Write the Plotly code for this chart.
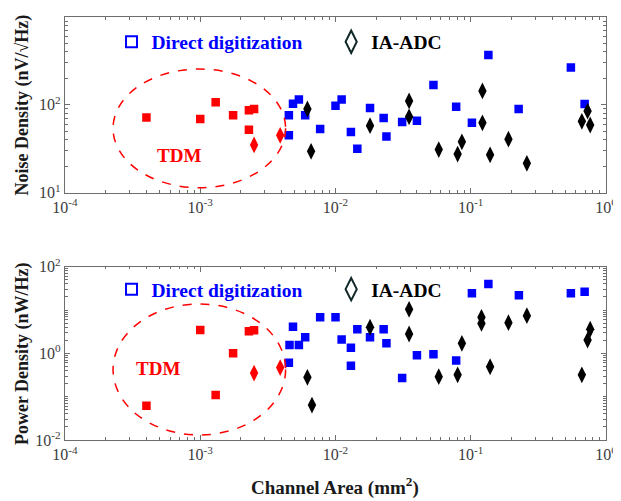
import plotly.graph_objects as go

# ---------------- data ----------------
# Top panel: noise density (nV/sqrt(Hz)) vs channel area (mm^2)
noise_tdm_sq_x = [4.0e-4, 1.0e-3, 1.3e-3, 1.75e-3, 2.29e-3, 2.5e-3, 2.29e-3]
noise_tdm_sq_y = [72, 69, 107, 76, 87, 89.5, 52]
noise_tdm_di_x = [2.5e-3, 3.9e-3]
noise_tdm_di_y = [35, 45]
noise_dd_x = [4.85e-3, 5.36e-3, 4.52e-3, 5.97e-3, 1.0e-2, 1.11e-2, 1.8e-2, 2.27e-2,
              3.11e-2, 4.0e-2, 5.3e-2, 7.8e-2, 0.102, 0.135, 0.226, 0.55, 0.695,
              4.52e-3, 7.7e-3, 1.3e-2, 1.45e-2, 2.38e-2]
noise_dd_y = [103, 115, 76, 76, 98, 115, 92, 71,
              64, 66, 168, 95, 62.5, 369, 89.5, 267, 102,
              45, 53, 49, 31.6, 43.7]
noise_ia_x = [6.2e-3, 6.6e-3, 1.8e-2, 3.5e-2, 3.5e-2, 5.8e-2, 8.0e-2, 8.6e-2,
              0.122, 0.122, 0.139, 0.19, 0.26, 0.663, 0.731, 0.764]
noise_ia_y = [90, 29.6, 58, 111, 73, 31, 27.5, 38,
              62.5, 144, 27, 40.7, 21.6, 65, 85, 59]

# Bottom panel: power density (nW/Hz) vs channel area (mm^2)
power_tdm_sq_x = [1.0e-3, 2.29e-3, 2.5e-3, 1.75e-3, 1.3e-3, 4.0e-4]
power_tdm_sq_y = [3.46, 3.23, 3.4, 1.0, 0.109, 0.062]
power_tdm_di_x = [2.5e-3, 3.9e-3]
power_tdm_di_y = [0.35, 0.47]
power_dd_x = [4.85e-3, 4.57e-3, 5.36e-3, 5.97e-3, 4.52e-3, 7.7e-3, 1.0e-2, 1.11e-2,
              1.3e-2, 1.45e-2, 1.8e-2, 2.27e-2, 2.38e-2, 1.3e-2, 3.11e-2, 4.0e-2,
              5.3e-2, 7.8e-2, 0.102, 0.135, 0.227, 0.55, 0.695]
power_dd_y = [4.1, 1.56, 1.56, 2.35, 0.61, 6.8, 6.8, 2.1,
              1.35, 3.6, 2.35, 3.6, 1.7, 0.52, 0.27, 0.90,
              0.95, 0.68, 24.3, 40, 21.9, 24.3, 26.5]
power_ia_x = [6.2e-3, 6.7e-3, 1.8e-2, 3.5e-2, 3.5e-2, 5.8e-2, 8.0e-2, 8.6e-2,
              0.12, 0.12, 0.139, 0.19, 0.26, 0.663, 0.731, 0.764]
power_ia_y = [0.28, 0.064, 4.0, 10.4, 2.8, 0.29, 0.32, 1.7,
              6.8, 4.9, 0.49, 5.1, 7.4, 0.32, 2.03, 3.6]

x_tickvals = [1e-4, 1e-3, 1e-2, 1e-1, 1]
x_ticktext = ["10<sup>-4</sup>", "10<sup>-3</sup>", "10<sup>-2</sup>", "10<sup>-1</sup>", "10<sup>0</sup>"]
y1_tickvals = [10, 100, 1000]
y1_ticktext = ["10<sup>1</sup>", "10<sup>2</sup>", "10<sup>3</sup>"]
y2_tickvals = [1e-2, 1, 100]
y2_ticktext = ["10<sup>-2</sup>", "10<sup>0</sup>", "10<sup>2</sup>"]

# ---------------- styling ----------------
RED = "#ff0000"
BLUE = "#0000ff"
BLACK = "#000000"
FRAME = "#6e6e6e"
SERIF = "Liberation Serif"


def minor_vals(lo, hi):
    vals = []
    for e in range(lo, hi):
        for k in range(2, 10):
            vals.append(k * 10.0 ** e)
    return vals


fig = go.Figure()


def add_points(xs, ys, color, symbol, size, xa, ya):
    fig.add_trace(go.Scatter(
        x=xs, y=ys, mode="markers", xaxis=xa, yaxis=ya, showlegend=False,
        marker=dict(color=color, symbol=symbol, size=size, line=dict(width=0)),
        hoverinfo="x+y"))


SQ = 8.5
DI = 12
add_points(noise_dd_x, noise_dd_y, BLUE, "square", SQ, "x", "y")
add_points(noise_ia_x, noise_ia_y, BLACK, "diamond-tall", DI, "x", "y")
add_points(noise_tdm_sq_x, noise_tdm_sq_y, RED, "square", SQ, "x", "y")
add_points(noise_tdm_di_x, noise_tdm_di_y, RED, "diamond-tall", DI, "x", "y")

add_points(power_dd_x, power_dd_y, BLUE, "square", SQ, "x2", "y2")
add_points(power_ia_x, power_ia_y, BLACK, "diamond-tall", DI, "x2", "y2")
add_points(power_tdm_sq_x, power_tdm_sq_y, RED, "square", SQ, "x2", "y2")
add_points(power_tdm_di_x, power_tdm_di_y, RED, "diamond-tall", DI, "x2", "y2")


# legend entries (open symbols)
def legend_entry(name, color, symbol, size, legend, xa, ya):
    fig.add_trace(go.Scatter(
        x=[None], y=[None], mode="markers", name=name, legend=legend,
        xaxis=xa, yaxis=ya,
        marker=dict(color=color, symbol=symbol, size=size,
                    line=dict(color=color, width=2))))


IA_COL = "#102828"
legend_entry("<b>Direct digitization</b>", BLUE, "square-open", 11, "legend", "x", "y")
legend_entry("<b>IA-ADC</b>", IA_COL, "diamond-tall-open", 16, "legend2", "x", "y")
legend_entry("<b>Direct digitization</b>", BLUE, "square-open", 11, "legend3", "x2", "y2")
legend_entry("<b>IA-ADC</b>", IA_COL, "diamond-tall-open", 16, "legend4", "x2", "y2")


def leg(x, y, color):
    return dict(x=x, y=y, xanchor="left", yanchor="middle", orientation="h",
                bgcolor="rgba(0,0,0,0)", borderwidth=0,
                font=dict(family=SERIF, size=19.5, color=color))


axis_common = dict(
    type="log", showgrid=False, zeroline=False, showline=True, linecolor=FRAME,
    linewidth=1.3, mirror="allticks", ticks="inside", ticklen=5, tickwidth=1,
    tickcolor=FRAME, tickmode="array",
    tickfont=dict(family=SERIF, size=16, color="#3c3c3c"),
)

# page body has an 8px default margin, so the figure is shrunk by 8px
fig.update_layout(
    width=613, height=493,
    margin=dict(l=57.3, r=15.3, t=9, b=61, autoexpand=False),
    paper_bgcolor="white", plot_bgcolor="white",
    xaxis=dict(axis_common, domain=[0, 1], anchor="y", range=[-4, 0],
               tickvals=x_tickvals, ticktext=x_ticktext,
               minor=dict(tickmode="array", tickvals=minor_vals(-4, 0), ticks="inside",
                          ticklen=2.5, tickcolor=FRAME, showgrid=False)),
    yaxis=dict(axis_common, domain=[0.5846, 1], anchor="x", range=[1, 3],
               tickvals=y1_tickvals, ticktext=y1_ticktext,
               minor=dict(tickmode="array", tickvals=minor_vals(1, 3), ticks="inside",
                          ticklen=2.5, tickcolor=FRAME, showgrid=False)),
    xaxis2=dict(axis_common, domain=[0, 1], anchor="y2", range=[-4, 0],
                tickvals=x_tickvals, ticktext=x_ticktext,
                minor=dict(tickmode="array", tickvals=minor_vals(-4, 0), ticks="inside",
                           ticklen=2.5, tickcolor=FRAME, showgrid=False)),
    yaxis2=dict(axis_common, domain=[0, 0.4097], anchor="x2", range=[-2, 2],
                tickvals=y2_tickvals, ticktext=y2_ticktext,
                minor=dict(tickmode="array", tickvals=minor_vals(-2, 2) + [0.1, 10],
                           ticks="inside", ticklen=2.5, tickcolor=FRAME, showgrid=False)),
    legend=leg(0.086, 0.9407, BLUE),
    legend2=leg(0.492, 0.9407, BLACK),
    legend3=leg(0.086, 0.3558, BLUE),
    legend4=leg(0.492, 0.3558, BLACK),
)

# TDM groups
for xr, yr, y0, y1, ty, tx in [("x domain", "y domain", 0.0285, 0.704, 0.2106, 0.2104),
                               ("x2 domain", "y2 domain", 0.029, 0.785, 0.41, 0.172)]:
    fig.add_shape(type="circle", xref=xr, yref=yr, x0=0.0888, x1=0.4078, y0=y0, y1=y1,
                  line=dict(color=RED, width=1.5, dash="dash"))
    fig.add_annotation(xref=xr, yref=yr, x=tx, y=ty, text="<b>TDM</b>", showarrow=False,
                       xanchor="center", yanchor="middle",
                       font=dict(family=SERIF, size=19, color=RED))

# axis titles
TITLE_X = (23 - 65.3) / 540.4
fig.add_annotation(xref="paper", yref="paper", x=TITLE_X, y=0.7923, textangle=-90,
                   xanchor="center", yanchor="middle",
                   text="<b>Noise Density (nV/√Hz)</b>", showarrow=False,
                   font=dict(family=SERIF, size=18, color="#1a1a1a"))
fig.add_annotation(xref="paper", yref="paper", x=TITLE_X, y=0.2047, textangle=-90,
                   xanchor="center", yanchor="middle",
                   text="<b>Power Density (nW/Hz)</b>", showarrow=False,
                   font=dict(family=SERIF, size=18, color="#1a1a1a"))
fig.add_annotation(xref="paper", yref="paper", x=0.499, y=-0.111,
                   xanchor="center", yanchor="middle",
                   text="<b>Channel Area (mm<sup>2</sup>)</b>", showarrow=False,
                   font=dict(family=SERIF, size=19, color="#1a1a1a"))

fig.write_html("out.html")
